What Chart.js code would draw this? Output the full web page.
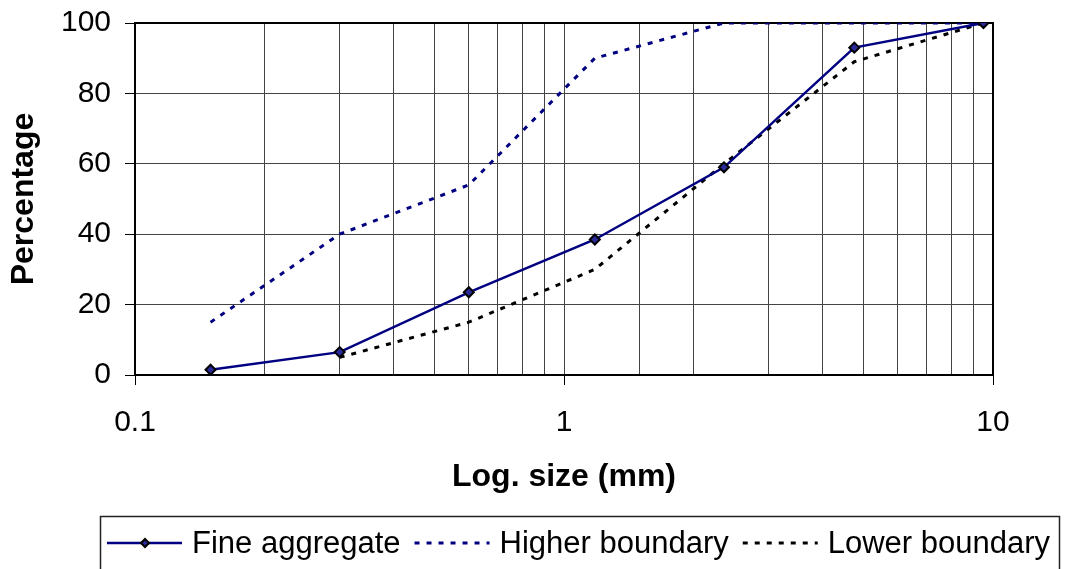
<!DOCTYPE html>
<html>
<head>
<meta charset="utf-8">
<script src="https://cdn.jsdelivr.net/npm/chart.js@4/dist/chart.umd.min.js"></script>
<style>
  html, body { margin: 0; padding: 0; background: #fff; }
</style>
</head>
<body>
<canvas id="chart" width="1068" height="569"></canvas>
<script>
// sieve sizes (mm) and % passing
const sizes = [0.15, 0.3, 0.6, 1.18, 2.36, 4.75, 9.5];
const fineAggregate = [1.5, 6.5, 23.5, 38.5, 59, 93, 100];
const higherBoundary = [15, 40, 54, 90, 100, 100, 100];
const lowerBoundary = [null, 5, 15, 30, 60, 89, 100];
const yTicks = [0, 20, 40, 60, 80, 100];
const xLabels = ['0.1', '1', '10'];

const FONT = '"Liberation Sans", Arial, sans-serif';
Chart.defaults.font.family = FONT;
Chart.defaults.color = '#000';

const toPoints = vals => sizes.map((x, i) => ({ x: x, y: vals[i] })).filter(p => p.y !== null);

const isDecade = v => Math.abs(Math.log10(v) - Math.round(Math.log10(v))) < 1e-6;

// black frame round the plot area
const frame = {
  id: 'frame',
  beforeDatasetsDraw(chart) {
    const { ctx, chartArea: a } = chart;
    ctx.save();
    ctx.strokeStyle = '#000';
    ctx.lineWidth = 2;
    ctx.strokeRect(a.left, a.top, a.right - a.left, a.bottom - a.top);
    ctx.restore();
  }
};

// legend in a box below, like the original
const boxLegend = {
  id: 'boxLegend',
  afterDraw(chart) {
    const ctx = chart.ctx;
    ctx.save();
    ctx.strokeStyle = '#222';
    ctx.lineWidth = 1.5;
    ctx.strokeRect(100.5, 516.5, 959, 90);
    ctx.font = '31px ' + FONT;
    ctx.textBaseline = 'middle';
    let x = 107;
    const y = 543;
    chart.data.datasets.forEach(ds => {
      ctx.strokeStyle = ds.borderColor;
      ctx.lineWidth = ds.borderWidth;
      ctx.setLineDash(ds.borderDash || []);
      ctx.beginPath();
      ctx.moveTo(x, y);
      ctx.lineTo(x + 75, y);
      ctx.stroke();
      ctx.setLineDash([]);
      if (ds.pointRadius > 0) {
        ctx.fillStyle = ds.pointBackgroundColor;
        ctx.strokeStyle = ds.pointBorderColor;
        ctx.lineWidth = ds.pointBorderWidth;
        Chart.helpers.drawPoint(ctx, { pointStyle: ds.pointStyle, radius: 4, borderWidth: ds.pointBorderWidth }, x + 38, y);
      }
      ctx.fillStyle = '#000';
      ctx.fillText(ds.label, x + 85, y + 1);
      x += 85 + ctx.measureText(ds.label).width + 14;
    });
    ctx.restore();
  }
};

new Chart(document.getElementById('chart'), {
  type: 'line',
  data: {
    datasets: [
      {
        label: 'Fine aggregate',
        data: toPoints(fineAggregate),
        borderColor: '#000080',
        borderWidth: 2.5,
        pointStyle: 'rectRot',
        pointRadius: 5,
        pointBackgroundColor: '#2a2a9a',
        pointBorderColor: '#000',
        pointBorderWidth: 2,
        tension: 0
      },
      {
        label: 'Higher boundary',
        data: toPoints(higherBoundary),
        borderColor: '#000080',
        borderWidth: 3,
        borderDash: [5, 7],
        pointRadius: 0,
        tension: 0
      },
      {
        label: 'Lower boundary',
        data: toPoints(lowerBoundary),
        borderColor: '#000',
        borderWidth: 3,
        borderDash: [5, 7],
        pointRadius: 0,
        tension: 0
      }
    ]
  },
  options: {
    responsive: false,
    animation: false,
    layout: { padding: { top: 23, right: 75, bottom: 73, left: 0 } },
    plugins: {
      legend: { display: false },
      tooltip: { enabled: false }
    },
    scales: {
      x: {
        type: 'logarithmic',
        min: 0.1,
        max: 10,
        ticks: {
          autoSkip: false,
          maxRotation: 0,
          padding: 20,
          font: { size: 30 },
          callback: v => isDecade(v) ? xLabels[Math.round(Math.log10(v)) + 1] : ''
        },
        grid: {
          color: '#444',
          lineWidth: 1,
          tickLength: 10,
          tickColor: c => (c.tick && isDecade(c.tick.value)) ? '#000' : 'rgba(0,0,0,0)'
        },
        border: { color: '#000', width: 2 },
        title: { display: true, text: 'Log. size (mm)', font: { size: 32, weight: 'bold' }, padding: 0 },
        afterFit: s => { s.height = 121; s.paddingLeft = 0; s.paddingRight = 0; }
      },
      y: {
        min: 0,
        max: 100,
        afterBuildTicks: s => { s.ticks = yTicks.map(v => ({ value: v })); },
        ticks: { padding: 14, font: { size: 30 } },
        grid: { color: '#444', lineWidth: 1, tickLength: 10, tickColor: '#000' },
        border: { color: '#000', width: 2 },
        title: { display: true, text: 'Percentage', font: { size: 32, weight: 'bold' }, padding: { top: 5, bottom: 0 } },
        afterFit: s => { s.width = 135; s.paddingTop = 0; s.paddingBottom = 0; }
      }
    }
  },
  plugins: [frame, boxLegend]
});
</script>
</body>
</html>
